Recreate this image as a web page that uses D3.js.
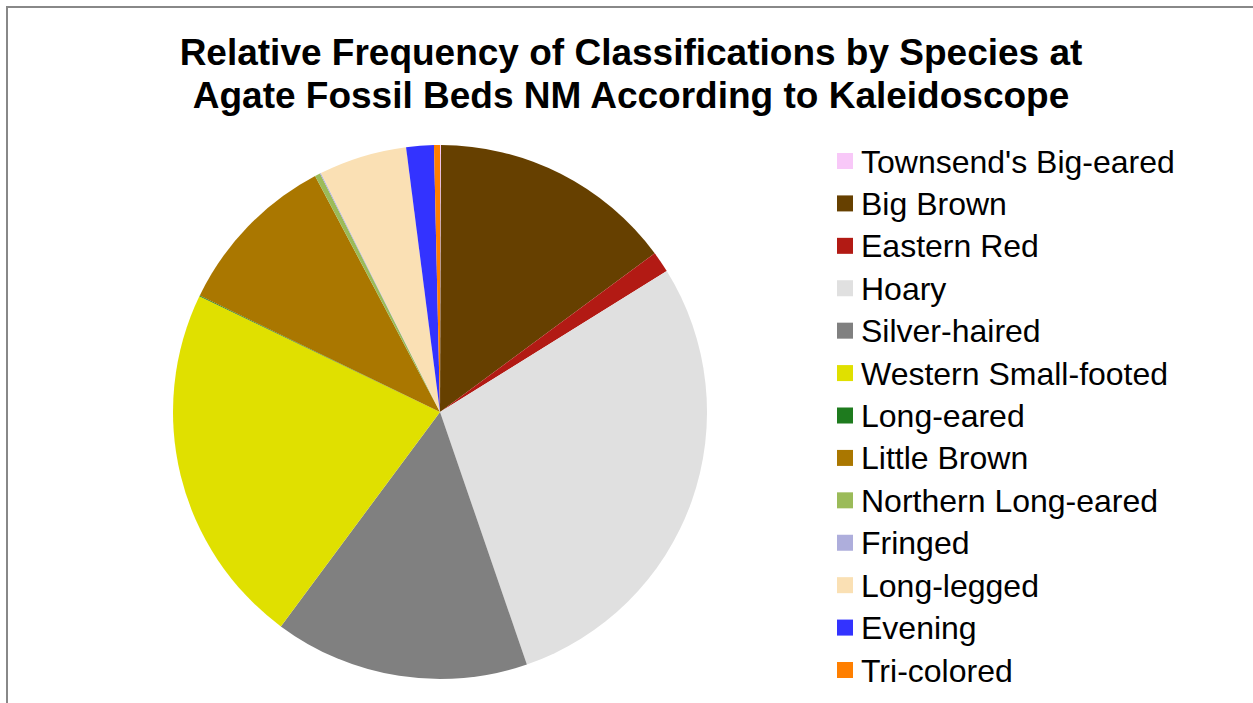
<!DOCTYPE html>
<html><head><meta charset="utf-8">
<script src="https://cdn.jsdelivr.net/npm/d3@7"></script>
<style>html,body{margin:0;padding:0;background:#fff;overflow:hidden}</style>
</head><body>
<script>
const categories = ["Townsend's Big-eared","Big Brown","Eastern Red","Hoary","Silver-haired","Western Small-footed","Long-eared","Little Brown","Northern Long-eared","Fringed","Long-legged","Evening","Tri-colored"];
const values = [0.06,14.81,1.28,28.58,15.44,21.97,0.06,10.06,0.33,0.06,5.33,1.67,0.36];
const colors = ["#F8C8F8","#664000","#B21A14","#E0E0E0","#808080","#E0E000","#1E7B1E","#AA7700","#9BBB59","#AEAEDC","#FAE0B4","#3333FF","#FF7F00"];
const titleLines = ["Relative Frequency of Classifications by Species at","Agate Fossil Beds NM According to Kaleidoscope"];

const W=1253,H=703;
const svg=d3.select("body").append("svg").attr("width",W).attr("height",H);
svg.append("rect").attr("x",7).attr("y",7).attr("width",W+10).attr("height",H+10)
  .attr("fill","#fff").attr("stroke","#888").attr("stroke-width",2);

svg.append("g").selectAll("text").data(titleLines).join("text")
  .attr("x",631).attr("y",(d,i)=>65+i*43)
  .attr("text-anchor","middle").attr("font-family","Liberation Sans, Arial, sans-serif")
  .attr("font-weight","bold").attr("font-size",37).attr("fill","#000").text(d=>d);

const cx=440,cy=412,r=267;
const pie=d3.pie().sort(null).value(d=>d.v);
const arc=d3.arc().innerRadius(0).outerRadius(r);
const data=categories.map((c,i)=>({c,v:values[i],col:colors[i]}));
svg.append("g").attr("transform",`translate(${cx},${cy})`)
  .selectAll("path").data(pie(data)).join("path")
  .attr("d",arc).attr("fill",d=>d.data.col);

const lg=svg.append("g");
const rowY=d3.scaleLinear().domain([0,categories.length-1]).range([161,670]);
const rows=lg.selectAll("g").data(data).join("g").attr("transform",(d,i)=>`translate(837,${rowY(i)})`);
rows.append("rect").attr("x",0).attr("y",-8).attr("width",16).attr("height",16).attr("fill",d=>d.col);
rows.append("text").attr("x",24).attr("y",11.5).attr("font-family","Liberation Sans, Arial, sans-serif")
  .attr("font-size",32).attr("fill","#000").text(d=>d.c);
</script>
</body></html>
